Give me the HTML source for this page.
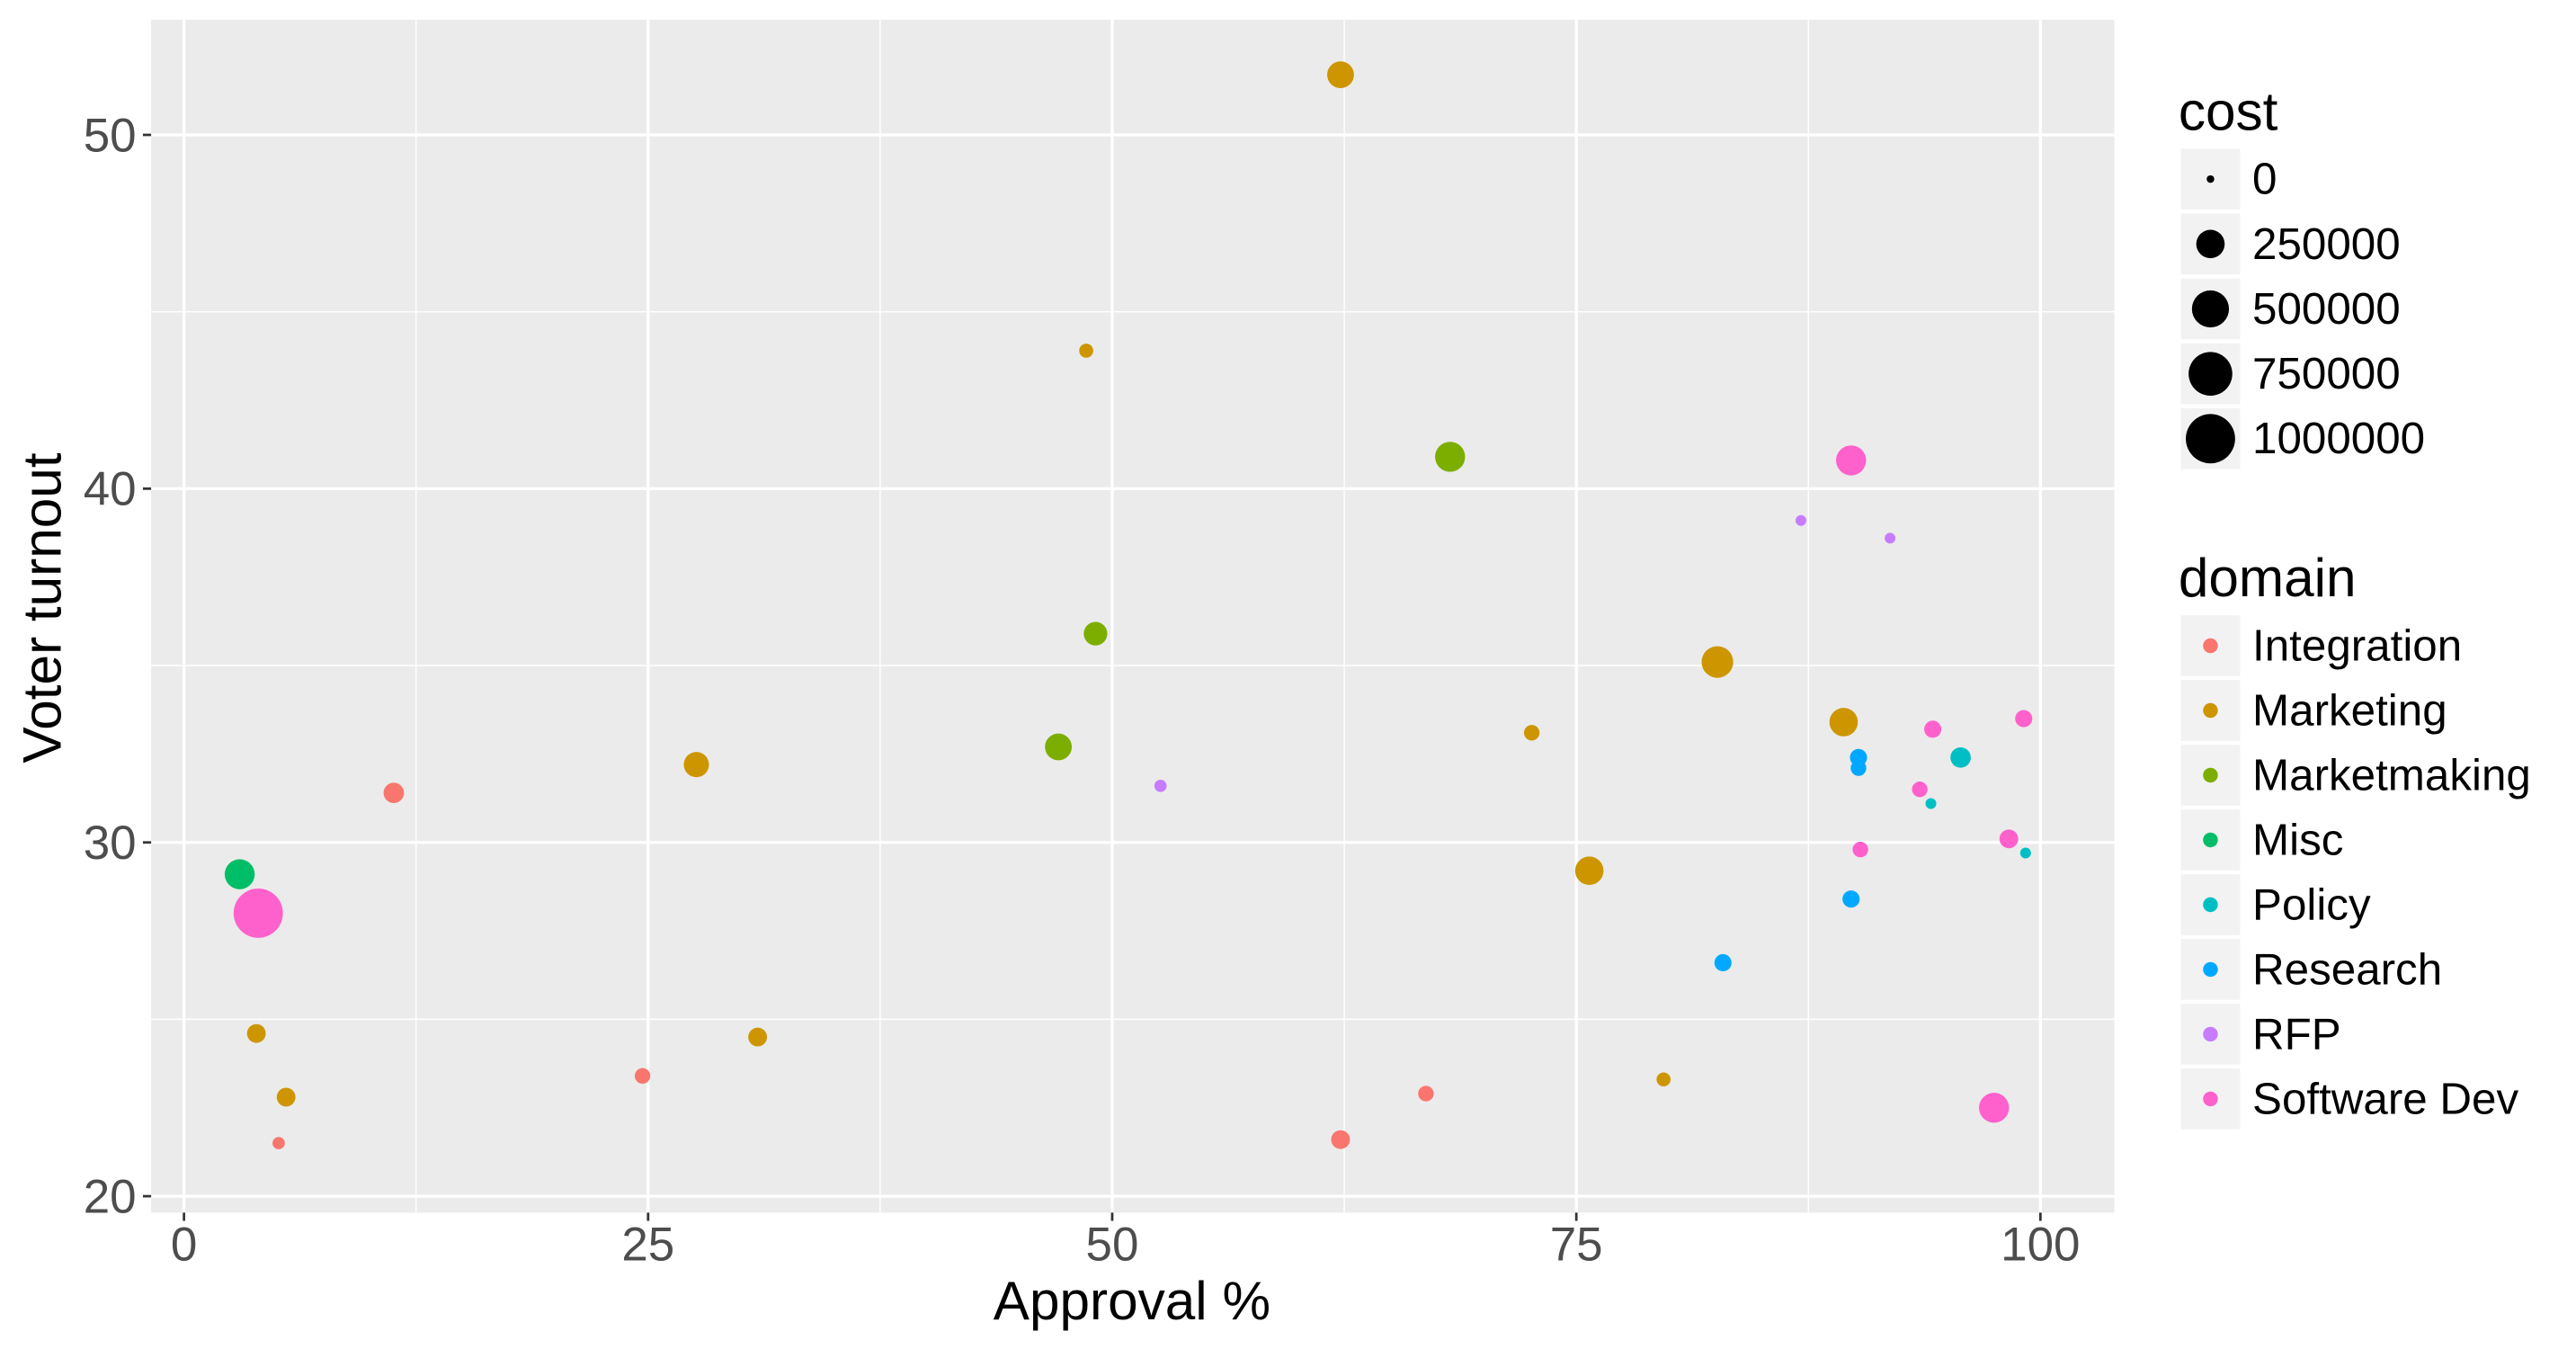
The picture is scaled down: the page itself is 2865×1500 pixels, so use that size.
<!DOCTYPE html>
<html><head><meta charset="utf-8"><style>
html,body{margin:0;padding:0;background:#fff;}
svg{display:block;font-family:"Liberation Sans",Arial,sans-serif;}
</style></head><body>
<svg id="chart" width="2865" height="1500" viewBox="0 0 1568 821" preserveAspectRatio="none" xmlns="http://www.w3.org/2000/svg">
<rect x="0" y="0" width="1568" height="821" fill="#fff"/>
<g id="panel"></g>
<g id="axes"></g>
<g id="points"></g>
<text x="689" y="803" font-size="33" text-anchor="middle" fill="#000">Approval %</text>
<text transform="translate(37,370) rotate(-90)" font-size="33" text-anchor="middle" fill="#000">Voter turnout</text>
<g id="legend"></g>
</svg>
<script>
const domains = ["Integration","Marketing","Marketmaking","Misc","Policy","Research","RFP","Software Dev"];
const domainColors = ["#F8766D","#CD9600","#7CAE00","#00BE67","#00BFC4","#00A9FF","#C77CFF","#FF61CC"];
const approval = [62.3,48.6,68.2,89.8,87.1,91.9,49.1,82.6,89.4,99.1,94.2,72.6,47.1,27.6,90.2,90.2,95.7,52.6,11.3,93.5,94.1,98.3,99.2,90.3,3.0,75.7,4.0,89.8,82.9,3.9,30.9,24.7,5.5,66.9,79.7,97.5,5.1,62.3];
const turnout = [51.7,43.9,40.9,40.8,39.1,38.6,35.9,35.1,33.4,33.5,33.2,33.1,32.7,32.2,32.4,32.1,32.4,31.6,31.4,31.5,31.1,30.1,29.7,29.8,29.1,29.2,28.0,28.4,26.6,24.6,24.5,23.4,22.8,22.9,23.3,22.5,21.5,21.6];
const cost = [213000,24000,290000,290000,6000,6000,148000,333000,250000,53000,53000,37000,213000,179000,53000,37000,95000,13000,95000,37000,6000,72000,6000,37000,290000,250000,1000000,53000,53000,72000,72000,37000,72000,37000,24000,290000,13000,72000];
const domain = ["Marketing","Marketing","Marketmaking","Software Dev","RFP","RFP","Marketmaking","Marketing","Marketing","Software Dev","Software Dev","Marketing","Marketmaking","Marketing","Research","Research","Policy","RFP","Integration","Software Dev","Policy","Software Dev","Policy","Software Dev","Misc","Marketing","Software Dev","Research","Research","Marketing","Marketing","Integration","Marketing","Integration","Marketing","Software Dev","Integration","Integration"];
const xTicks = [0,25,50,75,100];
const yTicks = [20,30,40,50];
const costBreaks = [0,250000,500000,750000,1000000];

const NS="http://www.w3.org/2000/svg";
const P={l:92,r:1287,t:12,b:738};
const xs=v=>112+v*11.3;
const ys=v=>728-(v-20)*21.53;
const rs=c=>2.3+12.7*Math.sqrt(c/1e6);
function mk(tag,attrs,parent){const e=document.createElementNS(NS,tag);for(const k in attrs)e.setAttribute(k,attrs[k]);parent.appendChild(e);return e;}
const panel=document.getElementById('panel'),axes=document.getElementById('axes'),pts=document.getElementById('points'),leg=document.getElementById('legend');
mk('rect',{x:P.l,y:P.t,width:P.r-P.l,height:P.b-P.t,fill:'#EBEBEB'},panel);
for(let i=0;i<xTicks.length-1;i++){const m=(xTicks[i]+xTicks[i+1])/2;const l=mk('line',{x1:xs(m),x2:xs(m),y1:P.t,y2:P.b,stroke:'#fff','stroke-width':0.8},panel);
}
for(let i=0;i<yTicks.length;i++){const m=yTicks[i]+5;if(ys(m)<P.t)continue;const l=mk('line',{x1:P.l,x2:P.r,y1:ys(m),y2:ys(m),stroke:'#fff','stroke-width':0.8},panel);
}
xTicks.forEach(t=>{const l=mk('line',{x1:xs(t),x2:xs(t),y1:P.t,y2:P.b,stroke:'#fff','stroke-width':1.8},panel);

mk('line',{x1:xs(t),x2:xs(t),y1:P.b,y2:P.b+5,stroke:'#333','stroke-width':1.5},axes);
const tx=mk('text',{x:xs(t),y:767,'font-size':29,'text-anchor':'middle',fill:'#4D4D4D'},axes);tx.textContent=t;
});
yTicks.forEach(t=>{const l=mk('line',{x1:P.l,x2:P.r,y1:ys(t),y2:ys(t),stroke:'#fff','stroke-width':1.8},panel);

mk('line',{x1:P.l-5,x2:P.l,y1:ys(t),y2:ys(t),stroke:'#333','stroke-width':1.5},axes);
const tx=mk('text',{x:P.l-9,y:ys(t)+10,'font-size':29,'text-anchor':'end',fill:'#4D4D4D'},axes);tx.textContent=t;
});
for(let i=0;i<approval.length;i++){const c=mk('circle',{cx:xs(approval[i]),cy:ys(turnout[i]),r:rs(cost[i]),fill:domainColors[domains.indexOf(domain[i])]},pts);
}
let t=mk('text',{x:1326,y:79,'font-size':33,fill:'#000'},leg);t.textContent='cost';

costBreaks.forEach((b,i)=>{const cy=109+i*39.5;
mk('rect',{x:1327,y:cy-19,width:37,height:38,fill:'#F2F2F2',stroke:'#fff','stroke-width':1},leg);
mk('circle',{cx:1345.5,cy:cy,r:rs(b),fill:'#000'},leg);
const tx=mk('text',{x:1371,y:cy+9,'font-size':27,fill:'#000'},leg);tx.textContent=b;
});
t=mk('text',{x:1326,y:363,'font-size':33,fill:'#000'},leg);t.textContent='domain';

domains.forEach((d,i)=>{const cy=393+i*39.4;
mk('rect',{x:1327,y:cy-19,width:37,height:38,fill:'#F2F2F2',stroke:'#fff','stroke-width':1},leg);
mk('circle',{cx:1345.5,cy:cy,r:4.5,fill:domainColors[i]},leg);
const tx=mk('text',{x:1371,y:cy+9,'font-size':27,fill:'#000'},leg);tx.textContent=d;
});
</script>
</body></html>
